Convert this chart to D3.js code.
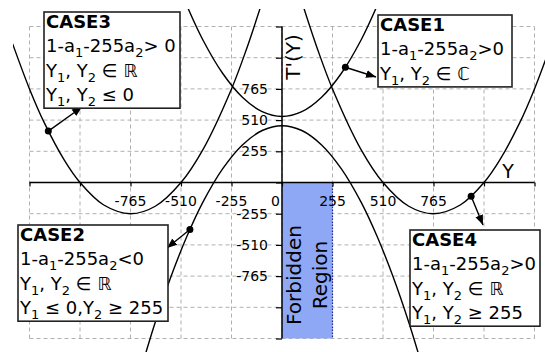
<!DOCTYPE html>
<html lang="en">
<head>
<meta charset="UTF-8">
<title>T'(Y) cases</title>
<style>
  body { margin: 0; background: #fff; }
  svg { display: block; font-family: "DejaVu Sans", sans-serif; }
  .grid line { stroke: #b0b0b0; stroke-width: 1; stroke-dasharray: 4 3; }
  .box text { font-size: 18px; }
</style>
</head>
<body>
<script src="https://d3js.org/d3.v7.min.js"></script>
<script>
    const w = 545, h = 352;

    // grid / tick values
    const gridValues = [-1275, -1020, -765, -510, -255, 0, 255, 510, 765, 1020, 1275];
    const xTickLabels = [-765, -510, -255, 0, 255, 510, 765];
    const yTickLabels = [-765, -510, -255, 255, 510, 765];

    // curves (Y, T'(Y))
    const case3Y = [-1360, -1275, -1200, -1100, -1020, -900, -765, -640, -510, -400, -255, -180, -110];
    const case3T = [1133, 765, 487, 185, 0, -184, -255, -194, 0, 267, 765, 1087, 1427];
    const case4Y = [110, 180, 255, 400, 510, 640, 765, 900, 1020, 1100, 1200, 1275, 1360];
    const case4T = [1427, 1087, 765, 267, 0, -194, -255, -184, 0, 185, 487, 765, 1133];
    const case1Y = [-480, -400, -300, -200, -100, 0, 100, 200, 300, 400, 480];
    const case1T = [1444, 1167, 893, 697, 579, 540, 579, 697, 893, 1167, 1444];
    const case2Y = [-720, -640, -560, -480, -400, -300, -200, -100, 0, 100, 200, 300, 400, 480, 560, 640, 720];
    const case2T = [-1569, -1142, -766, -440, -163, 111, 307, 425, 464, 425, 307, 111, -163, -440, -766, -1142, -1569];

    // forbidden band
    const forbidden = [0, 255];

    // annotation points on curves
    const markY = [-1180, 320, -465, 955];
    const markT = [420, 942, -384, -113];

    const svg = d3.select("body").append("svg")
        .attr("width", w)
        .attr("height", h);

    const x = d3.scaleLinear().domain([-1275, 1275]).range([29.5, 534.5]);
    const y = d3.scaleLinear().domain([-1275, 1275]).range([338.5, 26.5]);

    // grid
    const grid = svg.append("g").attr("class", "grid");
    grid.selectAll(".vx").data(gridValues).enter().append("line")
        .attr("x1", d => x(d)).attr("x2", d => x(d))
        .attr("y1", y(1275)).attr("y2", y(-1275));
    grid.selectAll(".hy").data(gridValues).enter().append("line")
        .attr("y1", d => y(d)).attr("y2", d => y(d))
        .attr("x1", x(-1275)).attr("x2", x(1275));

    // forbidden region
    svg.append("rect")
        .attr("x", x(forbidden[0]))
        .attr("y", y(0))
        .attr("width", x(forbidden[1]) - x(forbidden[0]))
        .attr("height", y(-1275) - y(0))
        .attr("fill", "#8fa8f6");
    svg.append("line")
        .attr("x1", x(forbidden[1])).attr("x2", x(forbidden[1]))
        .attr("y1", y(0)).attr("y2", y(-1275))
        .attr("stroke", "#1a2a9a").attr("stroke-width", 1.2)
        .attr("stroke-dasharray", "1.5 1.5");

    // axes
    const xAxis = d3.axisBottom(x).tickValues(gridValues).tickSize(4).tickFormat("");
    const gx = svg.append("g").attr("transform", "translate(0," + y(0) + ")").call(xAxis);
    gx.select(".domain").attr("d", "M" + x(-1275) + ",0H" + x(1275)).attr("stroke-width", 1.5);
    gx.selectAll(".tick line").attr("stroke-width", 1.2);

    const yAxis = d3.axisLeft(y).tickValues(gridValues).tickSize(6).tickFormat("");
    const gy = svg.append("g").attr("transform", "translate(" + x(0) + ",0)").call(yAxis);
    gy.select(".domain").attr("d", "M0," + y(1275) + "V" + y(-1275)).attr("stroke-width", 1.5);
    gy.selectAll(".tick line").attr("stroke-width", 1.2);

    // tick labels
    svg.selectAll(".xl").data(xTickLabels).enter().append("text")
        .attr("x", d => d === 0 ? x(0) - 2 : x(d))
        .attr("y", 206)
        .attr("text-anchor", d => d === 0 ? "end" : "middle")
        .style("font-size", "14px")
        .text(d => d);
    svg.selectAll(".yl").data(yTickLabels).enter().append("text")
        .attr("x", x(0) - 14)
        .attr("y", d => y(d))
        .attr("dy", "0.35em")
        .attr("text-anchor", "end")
        .style("font-size", "14px")
        .text(d => d);

    // axis titles
    svg.append("text").attr("x", 508).attr("y", 178)
        .attr("text-anchor", "middle").style("font-size", "19px").text("Y");
    svg.append("text")
        .attr("transform", "translate(300,57) rotate(-90)")
        .attr("text-anchor", "middle").style("font-size", "20px").text("T'(Y)");

    // forbidden region label
    svg.append("text")
        .attr("transform", "translate(301,275) rotate(-90)")
        .attr("text-anchor", "middle").style("font-size", "20px").text("Forbidden");
    svg.append("text")
        .attr("transform", "translate(327,275) rotate(-90)")
        .attr("text-anchor", "middle").style("font-size", "20px").text("Region");

    // curves
    svg.append("clipPath").attr("id", "clip")
        .append("rect").attr("x", 13).attr("y", 9).attr("width", w - 13).attr("height", h - 9);

    const line = d3.line()
        .x(d => x(d[0]))
        .y(d => y(d[1]))
        .curve(d3.curveCatmullRom);

    [[case3Y, case3T], [case4Y, case4T], [case1Y, case1T], [case2Y, case2T]].forEach(c => {
        svg.append("path")
            .datum(c[0].map((v, i) => [v, c[1][i]]))
            .attr("clip-path", "url(#clip)")
            .attr("fill", "none")
            .attr("stroke", "black")
            .attr("stroke-width", 1.4)
            .attr("d", line);
    });

    // arrows
    svg.append("defs").append("marker")
        .attr("id", "head")
        .attr("viewBox", "0 0 10 10")
        .attr("refX", 10).attr("refY", 5)
        .attr("markerWidth", 10).attr("markerHeight", 10)
        .attr("markerUnits", "userSpaceOnUse")
        .attr("orient", "auto")
        .append("path").attr("d", "M0,1L10,5L0,9Z").attr("fill", "black");

    const tips = [[82, 107], [376, 77], [167, 248], [483, 225]];
    markY.forEach((v, i) => {
        svg.append("line")
            .attr("x1", x(v)).attr("y1", y(markT[i]))
            .attr("x2", tips[i][0]).attr("y2", tips[i][1])
            .attr("stroke", "black").attr("stroke-width", 1.4)
            .attr("marker-end", "url(#head)");
        svg.append("circle")
            .attr("cx", x(v)).attr("cy", y(markT[i]))
            .attr("r", 3.5).attr("fill", "black");
    });

    // text boxes
    const boxes = [
        { x: 44, y: 12, w: 136, title: "CASE3",
          lines: [["1-a", "1", "-255a", "2", "> 0"], ["Y", "1", ", Y", "2", " \u2208 \u211D"], ["Y", "1", ", Y", "2", " \u2264 0"]] },
        { x: 378, y: 15, w: 134, title: "CASE1",
          lines: [["1-a", "1", "-255a", "2", ">0"], ["Y", "1", ", Y", "2", " \u2208 \u2102"]] },
        { x: 18, y: 225, w: 150, title: "CASE2",
          lines: [["1-a", "1", "-255a", "2", "<0"], ["Y", "1", ", Y", "2", " \u2208 \u211D"], ["Y", "1", " \u2264 0,Y", "2", " \u2265 255"]] },
        { x: 410, y: 230, w: 130, title: "CASE4",
          lines: [["1-a", "1", "-255a", "2", ">0"], ["Y", "1", ", Y", "2", " \u2208 \u211D"], ["Y", "1", ", Y", "2", " \u2265 255"]] }
    ];

    boxes.forEach(b => {
        const g = svg.append("g").attr("class", "box");
        const n = b.lines.length + 1;
        g.append("rect")
            .attr("x", b.x).attr("y", b.y)
            .attr("width", b.w).attr("height", n * 24.3 - 1)
            .attr("fill", "white").attr("stroke", "#222").attr("stroke-width", 1.6);
        g.append("text")
            .attr("x", b.x + 2).attr("y", b.y + 16)
            .style("font-weight", "bold").text(b.title);
        b.lines.forEach((parts, i) => {
            const t = g.append("text")
                .attr("x", b.x + 2).attr("y", b.y + 16 + (i + 1) * 24.3);
            parts.forEach((p, k) => {
                if (k % 2 === 1) {
                    t.append("tspan").attr("dy", 5).style("font-size", "13px").text(p);
                } else {
                    t.append("tspan").attr("dy", k === 0 ? 0 : -5).text(p);
                }
            });
        });
    });
</script>
</body>
</html>
